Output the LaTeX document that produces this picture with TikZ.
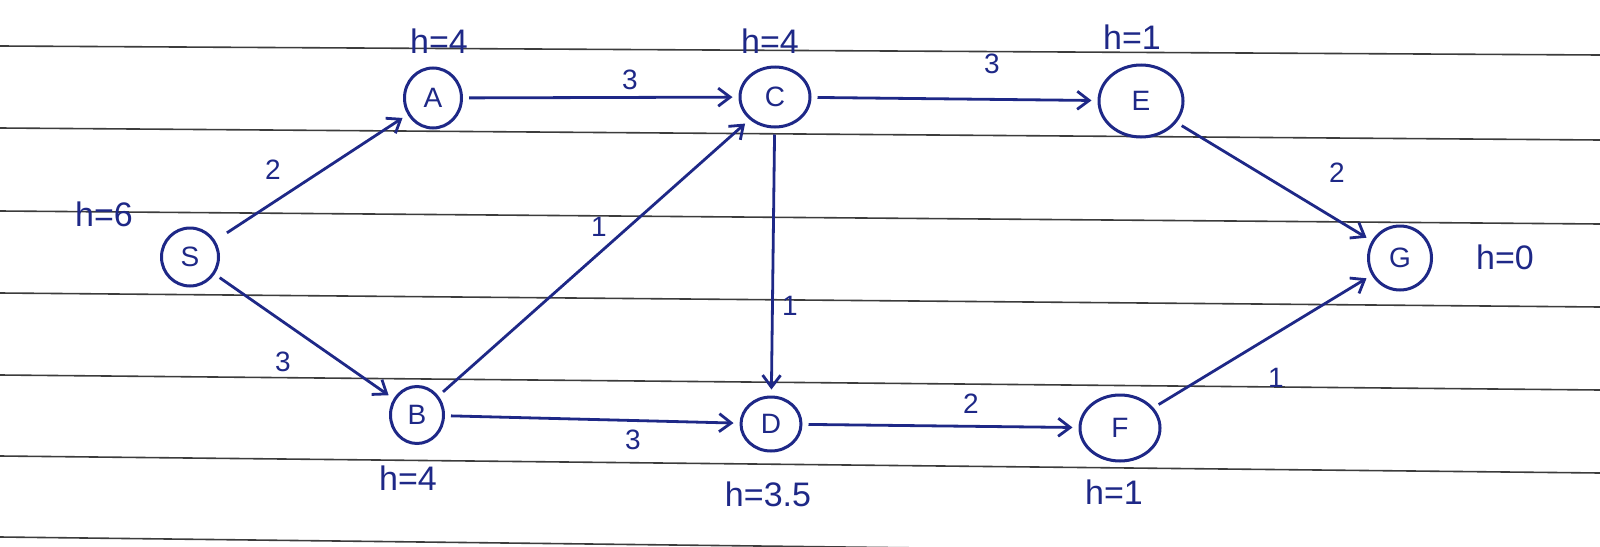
\documentclass[tikz,border=0pt]{standalone}
\usepackage{fontspec}
\setmainfont{Liberation Sans}
\usetikzlibrary{arrows.meta,shapes.geometric}
\definecolor{ink}{RGB}{30,40,135}
\definecolor{rule}{RGB}{60,60,60}
\tikzset{
  vert/.style={ellipse,draw=ink,line width=3pt,inner sep=0pt,minimum width=58pt,minimum height=58pt,text=ink,font=\fontsize{28}{28}\selectfont},
  edge/.style={draw=ink,line width=2.8pt,-{Straight Barb[length=12pt,width=18pt,line width=2.8pt]},shorten <=6pt,shorten >=6pt},
  wt/.style={text=ink,font=\fontsize{28}{28}\selectfont},
  hl/.style={text=ink,font=\fontsize{34}{34}\selectfont},
  ruled/.style={draw=rule,line width=1.6pt}
}
\begin{document}
\begin{tikzpicture}[x=1pt,y=-1pt]
\useasboundingbox (0,0) rectangle (1600,546);
\fill[white] (0,0) rectangle (1600,546);
% ruled paper lines
\foreach \yl/\yr in {46/55,128/140,211/224,293/307,375/390,456/473,537/556}
  \draw[ruled] (0,\yl) -- (1600,\yr);
% nodes
\node[vert,minimum width=57pt,minimum height=58pt] (S) at (190,257) {S};
\node[vert,minimum width=57pt,minimum height=60pt] (A) at (433,98) {A};
\node[vert,minimum width=70pt,minimum height=60pt] (C) at (775,97) {C};
\node[vert,minimum width=84pt,minimum height=72pt] (E) at (1141,101) {E};
\node[vert,minimum width=63pt,minimum height=64pt] (G) at (1400,258) {G};
\node[vert,minimum width=53pt,minimum height=57pt] (B) at (417,415) {B};
\node[vert,minimum width=60pt,minimum height=54pt] (D) at (771,424) {D};
\node[vert,minimum width=80pt,minimum height=66pt] (F) at (1120,428) {F};
% edges
\draw[edge,shorten <=14pt] (S) -- (A);
\draw[edge] (A) -- (C);
\draw[edge] (C) -- (E);
\draw[edge] (E) -- (G);
\draw[edge] (S) -- (B);
\draw[edge] (B) -- (C);
\draw[edge] (C) -- (D);
\draw[edge] (B) -- (D);
\draw[edge] (D) -- (F);
\draw[edge] (F) -- (G);
% weights
\node[wt] (w1) at (273,170) {2};
\node[wt] (w2) at (630,80) {3};
\node[wt] (w3) at (992,64) {3};
\node[wt] (w4) at (1337,173) {2};
\node[wt] (w5) at (599,227) {1};
\node[wt] (w6) at (790,306) {1};
\node[wt] (w7) at (283,362) {3};
\node[wt] (w8) at (633,440) {3};
\node[wt] (w9) at (971,404) {2};
\node[wt] (w10) at (1276,378) {1};
% heuristics
\node[hl] (hS) at (104,214) {h=6};
\node[hl] (hA) at (439,41) {h=4};
\node[hl] (hC) at (770,41) {h=4};
\node[hl] (hE) at (1132,37) {h=1};
\node[hl] (hG) at (1505,257) {h=0};
\node[hl] (hB) at (408,478) {h=4};
\node[hl] (hD) at (768,494) {h=3.5};
\node[hl] (hF) at (1114,492) {h=1};
\end{tikzpicture}
\end{document}
